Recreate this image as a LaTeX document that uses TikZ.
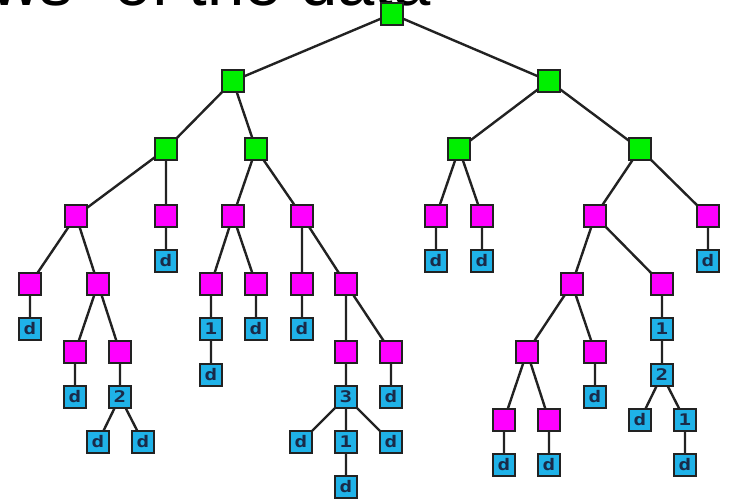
\documentclass[tikz,border=0pt]{standalone}
\usepackage{fontspec}
\newfontfamily\titlefont{Liberation Sans}
\newfontfamily\labfont[FakeStretch=1.3]{DejaVu Sans Mono}
\definecolor{gfill}{HTML}{00F000}
\definecolor{mfill}{HTML}{FF00FF}
\definecolor{cfill}{HTML}{1FB2E8}
\definecolor{labc}{HTML}{1A2A48}
\definecolor{edgec}{HTML}{222222}
\tikzset{
  box/.style={draw=edgec, line width=1.6bp, minimum size=21.5bp, inner sep=0pt, outer sep=0pt},
  gbox/.style={box, fill=gfill},
  mbox/.style={box, fill=mfill},
  cbox/.style={box, fill=cfill, text=labc, font=\labfont\bfseries\fontsize{16bp}{16bp}\selectfont},
  edge/.style={draw=edgec, line width=2.4bp}
}
\begin{document}
\begin{tikzpicture}[x=1bp,y=-1bp]
\useasboundingbox (0,0) rectangle (729,499);
\clip (0,0) rectangle (729,499);
\fill[white] (0,0) rectangle (729,499);
\node[anchor=base east, inner sep=0pt, font=\titlefont\fontsize{67bp}{67bp}\selectfont] (title) at (431,6) {“views” of the data};
% nodes
\node[gbox] (r) at (392,14) {};
\node[gbox] (g1) at (233,81) {};
\node[gbox] (g2) at (549,81) {};
\node[gbox] (g11) at (166,149) {};
\node[gbox] (g12) at (256,149) {};
\node[gbox] (g21) at (459,149) {};
\node[gbox] (g22) at (640,149) {};
% level 3
\node[mbox] (ma) at (76,216) {};
\node[mbox] (mb) at (166,216) {};
\node[mbox] (mc) at (233,216) {};
\node[mbox] (me) at (302,216) {};
\node[mbox] (mf) at (436,216) {};
\node[mbox] (mh) at (482,216) {};
\node[mbox] (mi) at (595,216) {};
\node[mbox] (mj) at (708,216) {};
\node[cbox] (db) at (166,261) {d};
\node[cbox] (df) at (436,261) {d};
\node[cbox] (dh) at (482,261) {d};
\node[cbox] (dj) at (708,261) {d};
% level 4
\node[mbox] (ma1) at (30,284) {};
\node[mbox] (ma2) at (98,284) {};
\node[mbox] (mc1) at (211,284) {};
\node[mbox] (mc2) at (256,284) {};
\node[mbox] (me1) at (302,284) {};
\node[mbox] (me2) at (346,284) {};
\node[mbox] (mi1) at (572,284) {};
\node[mbox] (mi2) at (662,284) {};
% level 5
\node[cbox] (da1) at (30,329) {d};
\node[cbox] (nc1) at (211,329) {1};
\node[cbox] (dc2) at (256,329) {d};
\node[cbox] (de1) at (302,329) {d};
\node[cbox] (ni2) at (662,329) {1};
\node[mbox] (ma21) at (75,352) {};
\node[mbox] (ma22) at (120,352) {};
\node[mbox] (me21) at (346,352) {};
\node[mbox] (me22) at (391,352) {};
\node[mbox] (mi11) at (527,352) {};
\node[mbox] (mi12) at (595,352) {};
\node[cbox] (dc1) at (211,375) {d};
\node[cbox] (ni2b) at (662,375) {2};
\node[cbox] (da21) at (75,397) {d};
\node[cbox] (na22) at (120,397) {2};
\node[cbox] (ne21) at (346,397) {3};
\node[cbox] (de22) at (391,397) {d};
\node[cbox] (di12) at (595,397) {d};
\node[mbox] (mi111) at (504,420) {};
\node[mbox] (mi112) at (549,420) {};
\node[cbox] (di2l) at (640,420) {d};
\node[cbox] (ni2r) at (685,420) {1};
\node[cbox] (da22l) at (98,442) {d};
\node[cbox] (da22r) at (143,442) {d};
\node[cbox] (de3l) at (301,442) {d};
\node[cbox] (ne3m) at (346,442) {1};
\node[cbox] (de3r) at (391,442) {d};
\node[cbox] (di111) at (504,465) {d};
\node[cbox] (di112) at (549,465) {d};
\node[cbox] (di2r) at (685,465) {d};
\node[cbox] (de3m) at (346,487) {d};
% edges
\path[edge]
 (r) -- (g1) (r) -- (g2)
 (g1) -- (g11) (g1) -- (g12)
 (g2) -- (g21) (g2) -- (g22)
 (g11) -- (ma) (g11) -- (mb)
 (g12) -- (mc) (g12) -- (me)
 (g21) -- (mf) (g21) -- (mh)
 (g22) -- (mi) (g22) -- (mj)
 (mb) -- (db) (mf) -- (df) (mh) -- (dh) (mj) -- (dj)
 (ma) -- (ma1) (ma) -- (ma2)
 (mc) -- (mc1) (mc) -- (mc2)
 (me) -- (me1) (me) -- (me2)
 (mi) -- (mi1) (mi) -- (mi2)
 (ma1) -- (da1) (mc1) -- (nc1) (mc2) -- (dc2) (me1) -- (de1) (mi2) -- (ni2)
 (ma2) -- (ma21) (ma2) -- (ma22)
 (me2) -- (me21) (me2) -- (me22)
 (mi1) -- (mi11) (mi1) -- (mi12)
 (nc1) -- (dc1) (ni2) -- (ni2b)
 (ma21) -- (da21) (ma22) -- (na22) (me21) -- (ne21) (me22) -- (de22) (mi12) -- (di12)
 (mi11) -- (mi111) (mi11) -- (mi112)
 (ni2b) -- (di2l) (ni2b) -- (ni2r)
 (na22) -- (da22l) (na22) -- (da22r)
 (ne21) -- (de3l) (ne21) -- (ne3m) (ne21) -- (de3r)
 (mi111) -- (di111) (mi112) -- (di112) (ni2r) -- (di2r)
 (ne3m) -- (de3m);
\end{tikzpicture}
\end{document}
